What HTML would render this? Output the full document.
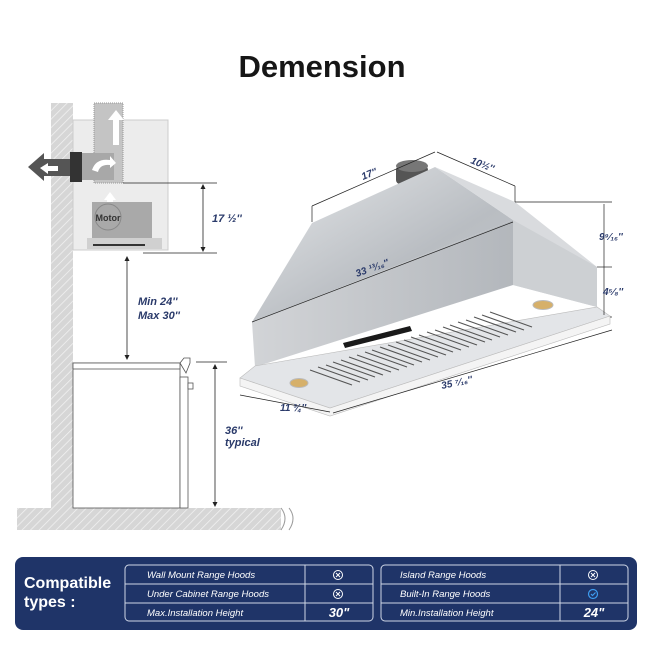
<!DOCTYPE html>
<html><head><meta charset="utf-8"><style>
html,body{margin:0;padding:0;background:#fff;}
svg{display:block;font-family:"Liberation Sans",sans-serif;}
</style></head><body>
<svg width="646" height="646" viewBox="0 0 646 646" xmlns="http://www.w3.org/2000/svg">
<defs>
<pattern id="h" width="6" height="6" patternUnits="userSpaceOnUse" patternTransform="rotate(45)">
<rect width="6" height="6" fill="#d6d6d6"/><line x1="0" y1="0" x2="0" y2="6" stroke="#f2f2f2" stroke-width="1.5"/></pattern>
<linearGradient id="g1" x1="0" y1="0" x2="1" y2="1"><stop offset="0" stop-color="#e6e8ea"/><stop offset="0.6" stop-color="#b9bdc2"/><stop offset="1" stop-color="#c4c7cb"/></linearGradient>
<linearGradient id="g2" x1="0" y1="0" x2="1" y2="0"><stop offset="0" stop-color="#d2d4d7"/><stop offset="1" stop-color="#b3b7bc"/></linearGradient>
</defs>
<text x="322" y="77" text-anchor="middle" font-size="31" font-weight="bold" fill="#161616">Demension</text>

<!-- wall and floor -->
<rect x="51" y="103" width="22" height="405" fill="url(#h)"/>
<rect x="17" y="508" width="264" height="22" fill="url(#h)"/>
<path d="M281 508 q8 10 0 22" fill="none" stroke="#999"/>
<path d="M289 508 q8 10 0 22" fill="none" stroke="#999"/>
<!-- cabinet -->
<rect x="73" y="120" width="95" height="130" fill="#ececec" stroke="#ccc"/>
<rect x="94" y="103" width="29" height="80" fill="#c4c4c4" stroke="#999" stroke-dasharray="1,1"/>
<path d="M116 110 l-8 10 h5 v25 h6 v-25 h5z" fill="#fff"/>
<rect x="82" y="153" width="32" height="27" fill="#a8a8a8"/>
<rect x="70" y="152" width="12" height="30" fill="#333"/>
<path d="M28 167 l16 -14 v6 h26 v17 h-26 v5z" fill="#555"/>
<path d="M40 168 l8 -5 v3 h10 v5 h-10 v3z" fill="#fff"/>
<path d="M92 170 q4 -12 18 -10 l0 -4 l6 7 l-6 5 v-3 q-10 -1 -12 7z" fill="#fff"/>
<path d="M104 200 l6 -8 l6 8 h-3 v6 h-6 v-6z" fill="#fff"/>
<rect x="92" y="202" width="60" height="36" fill="#a9a9a9"/>
<circle cx="108" cy="217" r="13" fill="none" stroke="#888"/>
<text x="108" y="221" font-size="9" font-weight="bold" text-anchor="middle" fill="#333">Motor</text>
<rect x="87" y="238" width="75" height="11" fill="#d0d0d0"/>
<rect x="93" y="244" width="52" height="2" fill="#333"/>
<!-- dims -->
<g stroke="#222" stroke-width="0.8" fill="none">
<line x1="123" y1="183" x2="217" y2="183"/><line x1="143" y1="253" x2="217" y2="253"/>
<line x1="203" y1="186" x2="203" y2="250"/>
<line x1="127" y1="258" x2="127" y2="358"/>
<line x1="196" y1="362" x2="227" y2="362"/>
<line x1="215" y1="365" x2="215" y2="505"/>
</g>
<g fill="#222">
<path d="M203 184 l-2.5 5 h5z"/><path d="M203 252 l-2.5 -5 h5z"/>
<path d="M127 256 l-2.5 5 h5z"/><path d="M127 360 l-2.5 -5 h5z"/>
<path d="M215 364 l-2.5 5 h5z"/><path d="M215 507 l-2.5 -5 h5z"/>
</g>
<g fill="#2a3a6a" font-size="11" font-style="italic" font-weight="bold">
<text x="212" y="222">17 ½''</text>
<text x="138" y="305">Min 24''</text><text x="138" y="319">Max 30''</text>
<text x="225" y="434">36''</text><text x="225" y="446">typical</text>
</g>
<!-- range -->
<rect x="73" y="363" width="107" height="145" fill="#fff" stroke="#555" stroke-width="0.8"/>
<rect x="73" y="363" width="107" height="6" fill="#fff" stroke="#555" stroke-width="0.8"/>
<rect x="180" y="377" width="8" height="131" fill="#fff" stroke="#555" stroke-width="0.8"/>
<path d="M180 363 l4 -5 h6 v5 l-4 10z" fill="#fff" stroke="#555" stroke-width="0.8"/>
<rect x="188" y="383" width="5" height="6" fill="#fff" stroke="#555" stroke-width="0.8"/>

<!-- hood -->
<rect x="396" y="166" width="32" height="18" rx="4" fill="#555"/>
<ellipse cx="412" cy="166" rx="16" ry="6" fill="#777"/>
<polygon points="312,223 435,167 513,220 252,322" fill="url(#g1)"/>
<polygon points="252,322 513,220 513,285 255,367" fill="url(#g2)"/>
<polygon points="435,167 515,202 597,267 597,307 513,285 513,220" fill="#d9dbde"/>
<polygon points="513,220 597,267 597,307 513,285" fill="#cdd0d3"/>
<polygon points="240,378 255,366 597,307 610,316 330,408" fill="#e3e5e8" stroke="#bbb" stroke-width="0.6"/>
<polygon points="240,378 330,408 610,316 610,324 330,416 240,386" fill="#f4f4f4" stroke="#bbb" stroke-width="0.6"/>
<g stroke="#555" stroke-width="1.1">
<line x1="310" y1="370" x2="352" y2="385"/><line x1="318" y1="367" x2="360" y2="382"/><line x1="326" y1="365" x2="368" y2="380"/>
<line x1="333" y1="362" x2="375" y2="377"/><line x1="341" y1="360" x2="383" y2="375"/><line x1="349" y1="357" x2="391" y2="372"/>
<line x1="357" y1="355" x2="399" y2="370"/><line x1="365" y1="352" x2="407" y2="367"/><line x1="372" y1="350" x2="414" y2="365"/>
<line x1="380" y1="347" x2="422" y2="362"/><line x1="388" y1="345" x2="430" y2="360"/><line x1="396" y1="342" x2="438" y2="357"/>
<line x1="404" y1="340" x2="446" y2="355"/><line x1="411" y1="337" x2="453" y2="352"/><line x1="419" y1="335" x2="461" y2="350"/>
<line x1="427" y1="332" x2="469" y2="347"/><line x1="435" y1="330" x2="477" y2="345"/><line x1="443" y1="327" x2="485" y2="342"/>
<line x1="450" y1="325" x2="492" y2="340"/><line x1="458" y1="322" x2="500" y2="337"/><line x1="466" y1="320" x2="508" y2="335"/>
<line x1="474" y1="317" x2="516" y2="332"/><line x1="482" y1="315" x2="524" y2="330"/><line x1="490" y1="312" x2="532" y2="327"/>
</g>
<polygon points="343,343 410,326 412,331 345,348" fill="#1a1a1a"/>
<ellipse cx="299" cy="383" rx="9" ry="4.5" fill="#d6b06a" stroke="#bbb"/>
<ellipse cx="543" cy="305" rx="10" ry="4.5" fill="#d6b06a" stroke="#bbb"/>
<g stroke="#222" stroke-width="0.7">
<line x1="312" y1="206" x2="435" y2="152"/><line x1="312" y1="206" x2="312" y2="222"/>
<line x1="437" y1="152" x2="515" y2="186"/><line x1="515" y1="186" x2="515" y2="202"/>
<line x1="252" y1="322" x2="513" y2="222"/>
<line x1="515" y1="202" x2="612" y2="202"/><line x1="597" y1="267" x2="612" y2="267"/><line x1="610" y1="317" x2="612" y2="317"/>
<line x1="604" y1="204" x2="604" y2="315"/>
<line x1="240" y1="395" x2="330" y2="412"/><line x1="333" y1="413" x2="612" y2="330"/>
</g>
<g fill="#2a3a6a" font-size="10" font-style="italic" font-weight="bold">
<text x="363" y="180" transform="rotate(-22 363 180)">17''</text>
<text x="470" y="163" transform="rotate(22 470 163)">10½''</text>
<text x="357" y="277" transform="rotate(-20 357 277)">33 ¹³⁄₁₆''</text>
<text x="599" y="240">9⁹⁄₁₆''</text>
<text x="603" y="295">4⁵⁄₈''</text>
<text x="442" y="389" transform="rotate(-12 442 389)">35 ⁷⁄₁₆''</text>
<text x="280" y="411">11 ¾''</text>
</g>

<!-- table -->
<rect x="15" y="557" width="622" height="73" rx="8" fill="#1f3468"/>
<text x="24" y="588" font-size="16" font-weight="bold" fill="#fff">Compatible</text>
<text x="24" y="607" font-size="16" font-weight="bold" fill="#fff">types :</text>
<g fill="none" stroke="#cfd6e6" stroke-width="1">
<rect x="125" y="565" width="248" height="56" rx="4"/>
<rect x="381" y="565" width="247" height="56" rx="4"/>
<line x1="125" y1="584" x2="373" y2="584"/><line x1="125" y1="603" x2="373" y2="603"/>
<line x1="381" y1="584" x2="628" y2="584"/><line x1="381" y1="603" x2="628" y2="603"/>
<line x1="305" y1="565" x2="305" y2="621"/><line x1="560" y1="565" x2="560" y2="621"/>
</g>
<g fill="#fff" font-size="9.5" font-style="italic">
<text x="147" y="578">Wall Mount Range Hoods</text>
<text x="147" y="597">Under Cabinet Range Hoods</text>
<text x="147" y="616">Max.Installation Height</text>
<text x="400" y="578">Island Range Hoods</text>
<text x="400" y="597">Built-In Range Hoods</text>
<text x="400" y="616">Min.Installation Height</text>
<text x="339" y="617" font-size="13" font-weight="bold" text-anchor="middle">30"</text>
<text x="594" y="617" font-size="13" font-weight="bold" text-anchor="middle">24"</text>
</g>
<g fill="none" stroke="#fff" stroke-width="1">
<circle cx="338" cy="575" r="4.5"/><path d="M336 573 l4 4 M340 573 l-4 4"/>
<circle cx="338" cy="594" r="4.5"/><path d="M336 592 l4 4 M340 592 l-4 4"/>
<circle cx="593" cy="575" r="4.5"/><path d="M591 573 l4 4 M595 573 l-4 4"/>
</g>
<g fill="none" stroke="#3d9cf0" stroke-width="1.2">
<circle cx="593" cy="594" r="4.5"/><path d="M591 594 l1.5 1.5 l3 -3"/>
</g>
</svg>
</body></html>
